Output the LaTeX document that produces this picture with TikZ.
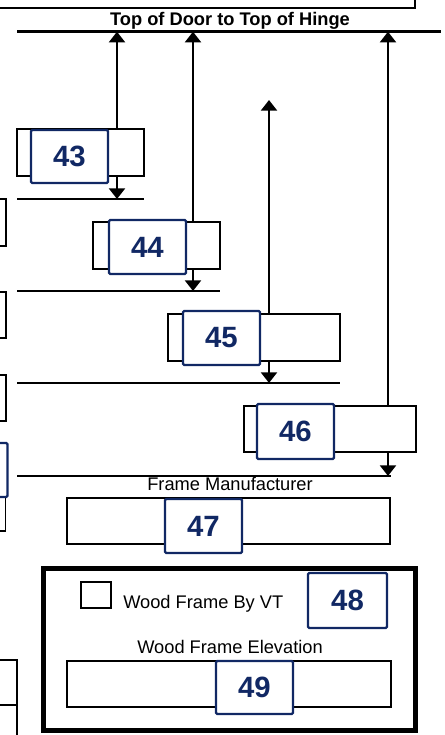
\documentclass[tikz,border=0pt]{standalone}
\usepackage{fontspec}
\setmainfont{Liberation Sans}
\usetikzlibrary{arrows.meta,fit}
\definecolor{navy}{RGB}{17,40,100}
\begin{document}
\begin{tikzpicture}[x=0.75pt,y=-0.75pt,
  bbox/.style={draw=black, fill=white, line width=2.2pt, inner sep=0pt},
  tbox/.style={draw=black, fill=white, line width=1.4pt, inner sep=0pt},
  nbox/.style={draw=navy, fill=white, line width=1.7pt, inner sep=0pt, rounded corners=1pt},
  numtxt/.style={text=navy, inner sep=0pt, font=\fontsize{22}{24}\selectfont\bfseries},
  hline/.style={line width=2.2pt},
  dimarrow/.style={line width=1.6pt, {Triangle[width=12pt,length=8pt]}-{Triangle[width=12pt,length=8pt]}},
  lbl/.style={font=\fontsize{13.7}{16}\selectfont, inner sep=0pt}
]
\useasboundingbox (0,0) rectangle (444,735);
\clip (0,0) rectangle (444,735);

% dimension line ends
\coordinate (h0a) at (17,31.7);  \coordinate (h0b) at (441,31.7);
\coordinate (h1a) at (17,199);   \coordinate (h1b) at (144,199);
\coordinate (h2a) at (17,291);   \coordinate (h2b) at (220,291);
\coordinate (h3a) at (17,383);   \coordinate (h3b) at (340,383);
\coordinate (h4a) at (17,476);   \coordinate (h4b) at (391,476);

\coordinate (t43) at (117,31.7); \coordinate (e43) at (117,199);
\coordinate (t44) at (193,31.7); \coordinate (e44) at (193,291);
\coordinate (t45) at (269,100);  \coordinate (e45) at (269,383);
\coordinate (t46) at (388,31.7); \coordinate (e46) at (388,476);

\draw[hline] (h0a) -- (h0b);
\draw[hline] (h1a) -- (h1b);
\draw[hline] (h2a) -- (h2b);
\draw[hline] (h3a) -- (h3b);
\draw[hline] (h4a) -- (h4b);

\draw[dimarrow] (t43) -- (e43);
\draw[dimarrow] (t44) -- (e44);
\draw[dimarrow] (t45) -- (e45);
\draw[dimarrow] (t46) -- (e46);

% black boxes
\node[bbox, fit={(-10,-10)(415,8)}] (topbox) {};
\node[bbox, fit={(17,129)(144,176)}] (f43) {};
\node[bbox, fit={(93,222)(220,269)}] (f44) {};
\node[bbox, fit={(168,314)(340,361)}] (f45) {};
\node[bbox, fit={(244,406)(416,452)}] (f46) {};
\node[bbox, fit={(67,498)(390,544)}] (f47) {};
\node[bbox, fit={(67,661)(391,707)}] (f49) {};

% left edge fragments
\node[tbox, fit={(-20,199)(5.7,246)}] (l1) {};
\node[tbox, fit={(-20,292)(5.7,338)}] (l2) {};
\node[tbox, fit={(-20,375)(5.7,421)}] (l3) {};
\node[tbox, fit={(-20,480)(5.5,531)}] (l4) {};
\node[nbox, fit={(-20,443)(7.5,497)}] (l5) {};
\node[tbox, fit={(-20,660)(17,705)}] (l6) {};
\node[tbox, fit={(-20,705)(17,750)}] (l7) {};

% thick group box
\node[draw=black, line width=3.9pt, inner sep=0pt, fit={(43.5,568.5)(415.5,730.5)}] (group) {};
\node[draw=black, line width=1pt, inner sep=0pt, fit={(81,582)(111,608)}] (check) {};

% number boxes
\node[nbox, fit={(31,130)(108,183)}] (n43) {};
\node[nbox, fit={(109,220)(186,274)}] (n44) {};
\node[nbox, fit={(183,311)(260,365)}] (n45) {};
\node[nbox, fit={(257,404)(334,459)}] (n46) {};
\node[nbox, fit={(165,499)(242,553)}] (n47) {};
\node[nbox, fit={(308,573)(387,628)}] (n48) {};
\node[nbox, fit={(216,661)(293,714)}] (n49) {};
\node[numtxt] (x43) at (n43.center) {43};
\node[numtxt] (x44) at (n44.center) {44};
\node[numtxt] (x45) at (n45.center) {45};
\node[numtxt] (x46) at (n46.center) {46};
\node[numtxt] (x47) at (n47.center) {47};
\node[numtxt] (x48) at (n48.center) {48};
\node[numtxt] (x49) at (n49.center) {49};

% labels
\node[lbl, font=\fontsize{13.7}{16}\selectfont\bfseries, anchor=base] (title) at (230,26) {Top of Door to Top of Hinge};
\node[lbl, anchor=base] (fm) at (230,490.7) {Frame Manufacturer};
\node[lbl, anchor=base west] (wfvt) at (123,608) {Wood Frame By VT};
\node[lbl, anchor=base] (wfe) at (230,653) {Wood Frame Elevation};
\end{tikzpicture}
\end{document}
